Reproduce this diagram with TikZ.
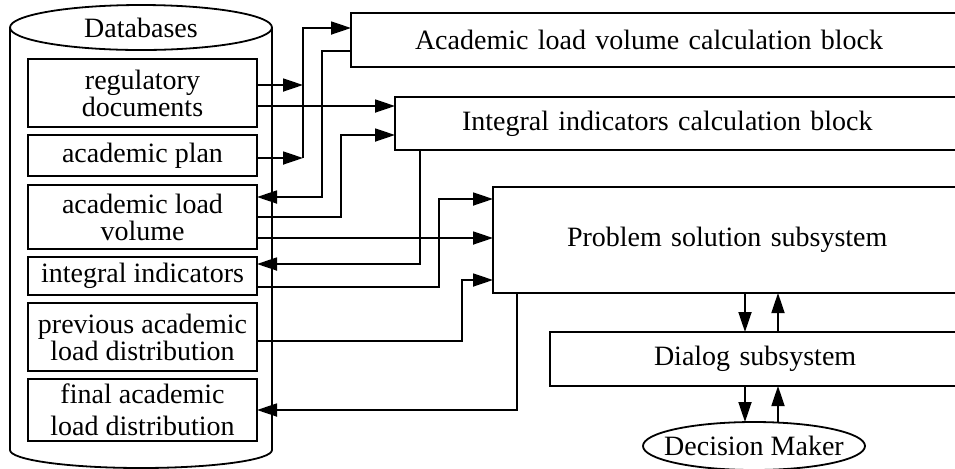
\documentclass[tikz,border=0pt]{standalone}
\usepackage{fontspec}
\setmainfont{Liberation Serif}
\usetikzlibrary{arrows.meta,shapes.geometric}

\begin{document}
\begin{tikzpicture}[
  x=0.5pt, y=-0.5pt, line width=0.9pt,
  every node/.style={font=\fontsize{14}{13.5}\selectfont},
  dbitem/.style={draw, minimum width=114.5pt, align=center, inner sep=0pt, outer sep=0pt},
  block/.style={draw, anchor=west, align=left, inner ysep=0pt, outer sep=0pt},
  oval/.style={draw, ellipse, inner sep=0pt, outer sep=0pt},
  arr/.style={-{Triangle[length=10pt,width=6.5pt]}}
]
  \useasboundingbox (0,0) rectangle (955,468);
  \clip (0,0) rectangle (955,468);
  \def\dbx{142.5}

  % database cylinder
  \node[oval, minimum width=131pt, minimum height=22.5pt] (dbtop) at (141,27.5) {Databases};
  \coordinate (dbbot) at (141,450);
  \draw (dbtop.west) -- (dbtop.west |- dbbot)
    arc[start angle=180, end angle=360, x radius=65.5pt, y radius=9pt] -- (dbtop.east);

  % stored items
  \node[dbitem, minimum height=34pt] (regdoc) at (\dbx,93) {regulatory\\documents};
  \node[dbitem, minimum height=20.5pt] (plan) at (\dbx,155.5) {academic plan};
  \node[dbitem, minimum height=32pt] (volume) at (\dbx,217) {academic load\\volume};
  \node[dbitem, minimum height=19pt] (integral) at (\dbx,276) {integral indicators};
  \node[dbitem, minimum height=34pt] (prevdist) at (\dbx,337) {previous academic\\load distribution};
  \node[dbitem, minimum height=31pt] (finaldist) at (\dbx,410) {final academic\\[2.5pt]load distribution};

  % processing blocks
  \node[block, text width=260.5pt, inner xsep=32pt, minimum height=27pt] (volcalc) at (351,40) {Academic load volume calculation block};
  \node[block, text width=235.5pt, inner xsep=33.5pt, minimum height=26.5pt] (intcalc) at (395,123.5) {Integral indicators calculation block};
  \node[block, text width=179.5pt, inner xsep=37pt, minimum height=53pt] (solver) at (493,240) {Problem solution subsystem};
  \node[block, text width=121pt, inner xsep=52pt, minimum height=27pt] (dialog) at (550,359) {Dialog subsystem};
  \node[oval, minimum width=111pt, minimum height=24pt, inner xsep=-8pt] (dm) at (754,446) {Decision Maker};

  % vertical runs of the connectors
  \foreach \n/\x in {busA/303, busB/322, busC/341, busD/420, busE/439, busF/462, busG/517, upA/745, upB/778}
    \coordinate (\n) at (\x,0);

  % volume calculation block
  \draw[arr] ([yshift=4pt]regdoc.east) -- ([yshift=4pt]regdoc.east -| busA);
  \draw[arr] ([yshift=-1.25pt]plan.east) -- ([yshift=-1.25pt]plan.east -| busA);
  \draw[arr] ([yshift=-1.25pt]plan.east -| busA) -- ([yshift=6pt]volcalc.west -| busA) -- ([yshift=6pt]volcalc.west);
  \draw[arr] ([yshift=-5.5pt]volcalc.west) -| ([yshift=10pt]volume.east -| busB) -- ([yshift=10pt]volume.east);

  % integral indicators block
  \draw[arr] ([yshift=-6.5pt]regdoc.east) -- ([yshift=-6.5pt]regdoc.east -| intcalc.west);
  \draw[arr] (volume.east) -| ([yshift=-5.75pt]intcalc.west -| busC) -- ([yshift=-5.75pt]intcalc.west);
  \draw[arr] (intcalc.south -| busD) |- ([yshift=6pt]integral.east);

  % problem solution subsystem
  \draw[arr] ([yshift=-10.5pt]volume.east) -- ([yshift=-10.5pt]volume.east -| solver.west);
  \draw[arr] ([yshift=-5.5pt]integral.east) -| ([yshift=20.5pt]solver.west -| busE) -- ([yshift=20.5pt]solver.west);
  \draw[arr] ([yshift=-2pt]prevdist.east) -| ([yshift=-20pt]solver.west -| busF) -- ([yshift=-20pt]solver.west);
  \draw[arr] (solver.south -| busG) |- (finaldist.east);

  % dialog with the decision maker
  \draw[arr] (solver.south -| upA) -- (dialog.north -| upA);
  \draw[arr] (dialog.north -| upB) -- (solver.south -| upB);
  \draw[arr] (dialog.south -| upA) -- (dm.north -| upA);
  \draw[arr] (dm.north -| upB) -- (dialog.south -| upB);
\end{tikzpicture}
\end{document}
